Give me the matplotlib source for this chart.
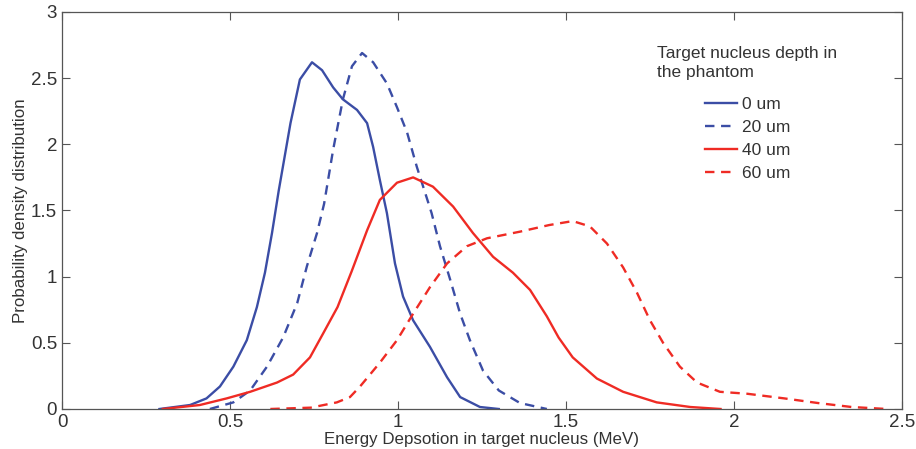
from matplotlib import pyplot as plt
import numpy as np

plt.rcParams['font.family'] = ['Liberation Sans', 'DejaVu Sans']

# 0 um
x0 = [0.29, 0.381, 0.43, 0.47, 0.51, 0.55, 0.58, 0.604, 0.625, 0.645, 0.68, 0.708,
      0.744, 0.774, 0.807, 0.836, 0.878, 0.908, 0.926, 0.946, 0.967, 0.991, 1.015,
      1.045, 1.095, 1.146, 1.185, 1.244, 1.30]
y0 = [0.0, 0.03, 0.08, 0.17, 0.32, 0.52, 0.77, 1.03, 1.33, 1.65, 2.16, 2.49,
      2.62, 2.56, 2.43, 2.34, 2.26, 2.16, 1.98, 1.73, 1.48, 1.10, 0.85,
      0.67, 0.47, 0.24, 0.09, 0.015, 0.0]
# 20 um
x20 = [0.44, 0.51, 0.56, 0.61, 0.658, 0.70, 0.729, 0.759, 0.78, 0.807, 0.836, 0.863,
       0.893, 0.926, 0.967, 0.997, 1.027, 1.056, 1.08, 1.10, 1.125, 1.155, 1.185,
       1.214, 1.253, 1.30, 1.363, 1.443]
y20 = [0.0, 0.05, 0.14, 0.32, 0.54, 0.80, 1.08, 1.33, 1.55, 1.96, 2.34, 2.59,
       2.69, 2.62, 2.46, 2.28, 2.09, 1.83, 1.64, 1.48, 1.23, 0.98, 0.72,
       0.52, 0.29, 0.14, 0.045, 0.0]
# 40 um
x40 = [0.30, 0.41, 0.49, 0.56, 0.64, 0.688, 0.738, 0.777, 0.82, 0.862, 0.908, 0.946,
       0.997, 1.045, 1.104, 1.164, 1.223, 1.283, 1.342, 1.393, 1.443, 1.478, 1.52,
       1.592, 1.67, 1.77, 1.87, 1.96]
y40 = [0.0, 0.03, 0.08, 0.13, 0.20, 0.26, 0.39, 0.57, 0.77, 1.04, 1.35, 1.58,
       1.71, 1.75, 1.68, 1.53, 1.33, 1.15, 1.03, 0.90, 0.70, 0.54, 0.39,
       0.23, 0.13, 0.05, 0.015, 0.0]
# 60 um
x60 = [0.62, 0.74, 0.818, 0.857, 0.887, 0.946, 0.997, 1.045, 1.095, 1.146, 1.205,
       1.265, 1.363, 1.45, 1.52, 1.571, 1.622, 1.67, 1.711, 1.75, 1.789, 1.839,
       1.89, 1.958, 2.04, 2.15, 2.25, 2.35, 2.455]
y60 = [0.0, 0.01, 0.05, 0.09, 0.17, 0.35, 0.52, 0.72, 0.92, 1.10, 1.23,
       1.29, 1.34, 1.39, 1.42, 1.38, 1.25, 1.07, 0.88, 0.67, 0.50, 0.32,
       0.20, 0.13, 0.115, 0.08, 0.045, 0.015, 0.0]

labels = ["0 um", "20 um", "40 um", "60 um"]

blue = "#3b4da5"
red = "#ef2b24"
grey = "#555555"
txt = "#333333"

fig = plt.figure(figsize=(9.16, 4.49), dpi=100)
ax = fig.add_axes([0.0677, 0.0891, 0.917, 0.8842])

dash = (0, (4, 2.8))
ax.plot(x0, y0, color=blue, lw=1.7, label=labels[0])
ax.plot(x20, y20, color=blue, lw=1.7, ls=dash, label=labels[1])
ax.plot(x40, y40, color=red, lw=1.7, label=labels[2])
ax.plot(x60, y60, color=red, lw=1.7, ls=dash, label=labels[3])

ax.set_xlim(0, 2.5)
ax.set_ylim(0, 3)
ax.set_xticks(np.arange(0, 2.51, 0.5))
ax.set_yticks(np.arange(0, 3.01, 0.5))
ax.set_xticklabels(["0", "0.5", "1", "1.5", "2", "2.5"])
ax.set_yticklabels(["0", "0.5", "1", "1.5", "2", "2.5", "3"])
ax.tick_params(direction="in", top=True, right=True, length=6, width=0.8,
               colors=grey, labelcolor=txt, labelsize=13.5)
for s in ax.spines.values():
    s.set_color(grey)
    s.set_linewidth(0.9)

ax.set_xlabel("Energy Depsotion in target nucleus (MeV)", fontsize=12.2, color=txt, labelpad=1)
ax.set_ylabel("Probability density distribution", fontsize=12.2, color=txt, labelpad=2)

# 图例标题单独放
ax.text(0.708, 0.914, "Target nucleus depth in\nthe phantom", transform=ax.transAxes,
        ha="left", va="top", fontsize=12.5, color=txt, linespacing=1.35)
leg = ax.legend(loc="upper left", bbox_to_anchor=(0.765, 0.787), borderaxespad=0,
                borderpad=0, frameon=False, fontsize=12.5, handlelength=1.85,
                handletextpad=0.3, labelspacing=0.46)
for t in leg.get_texts():
    t.set_color(txt)

fig.savefig("out.png", dpi=100)
